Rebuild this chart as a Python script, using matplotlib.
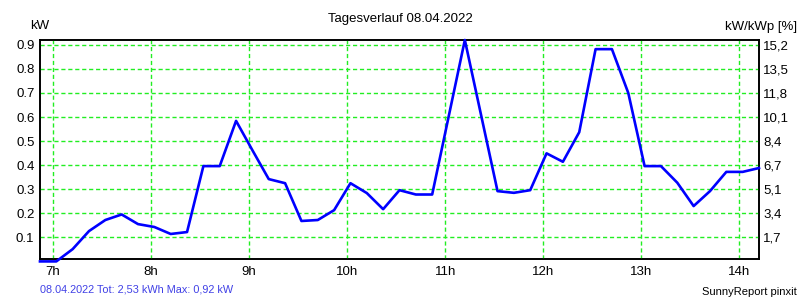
import matplotlib
matplotlib.use("Agg")
import matplotlib.pyplot as plt

plt.rcParams['font.family'] = ['Liberation Sans', 'DejaVu Sans']

# ------------------------------------------------------------
# Data (10 minute samples)
# ------------------------------------------------------------
times = ["6:52", "7:02", "7:12", "7:22", "7:32", "7:42", "7:52",
         "8:02", "8:12", "8:22", "8:32", "8:42", "8:52",
         "9:02", "9:12", "9:22", "9:32", "9:42", "9:52",
         "10:02", "10:12", "10:22", "10:32", "10:42", "10:52",
         "11:12", "11:32", "11:42", "11:52",
         "12:02", "12:12", "12:22", "12:32", "12:42", "12:52",
         "13:02", "13:12", "13:22", "13:32", "13:42", "13:52",
         "14:02", "14:12"]
power_kw = [0.0, 0.0, 0.051, 0.126, 0.172, 0.195, 0.155,
            0.143, 0.114, 0.122, 0.396, 0.396, 0.584,
            0.462, 0.342, 0.325, 0.168, 0.172, 0.213,
            0.325, 0.284, 0.217, 0.296, 0.278, 0.278,
            0.92, 0.292, 0.285, 0.296,
            0.449, 0.414, 0.537, 0.882, 0.882, 0.70,
            0.396, 0.396, 0.327, 0.230, 0.292, 0.372,
            0.372, 0.388]

hour_ticks = [7, 8, 9, 10, 11, 12, 13, 14]
hour_labels = ["7h", "8h", "9h", "10h", "11h", "12h", "13h", "14h"]
kw_ticks = [0.1, 0.2, 0.3, 0.4, 0.5, 0.6, 0.7, 0.8, 0.9]
kw_labels = ["0.1", "0.2", "0.3", "0.4", "0.5", "0.6", "0.7", "0.8", "0.9"]
pct_labels = ["1,7", "3,4", "5,1", "6,7", "8,4", "10,1", "11,8", "13,5", "15,2"]

hours = [int(t.split(":")[0]) + int(t.split(":")[1]) / 60 for t in times]

# ------------------------------------------------------------
# Figure
# ------------------------------------------------------------
fig = plt.figure(figsize=(8, 3), dpi=100)
ax = fig.add_axes([40/800, 41/300, 719/800, 219/300])

grid_col = "#22ee22"
for h in hour_ticks:
    ax.axvline(h, color=grid_col, lw=1, ls=(0, (3, 2)), zorder=1)
for v in kw_ticks:
    ax.axhline(v, color=grid_col, lw=1, ls=(0, (3, 2)), zorder=1)

ax.plot(hours, power_kw, color="#0000ff", lw=1.9, zorder=5, clip_on=False)

ax.set_xlim(6.867, 14.2)
ax.set_ylim(0.01, 0.92)

ax.set_xticks(hour_ticks)
ax.set_xticklabels(hour_labels, fontsize=9.5)
ax.set_yticks(kw_ticks)
ax.set_yticklabels(kw_labels, fontsize=9.5)
ax.tick_params(axis="both", length=0)
ax.tick_params(axis="x", pad=5)
ax.tick_params(axis="y", pad=4)

ax2 = ax.twinx()
ax2.set_ylim(ax.get_ylim())
ax2.set_yticks(kw_ticks)
ax2.set_yticklabels(pct_labels, fontsize=9.5)
ax2.tick_params(axis="y", length=0, pad=3)
ax.set_zorder(ax2.get_zorder() + 1)
ax.patch.set_visible(False)

for a in (ax, ax2):
    for s in a.spines.values():
        s.set_color("black")
        s.set_linewidth(1.2)

fig.text(0.5, 1 - 19/300, "Tagesverlauf 08.04.2022", ha="center", va="center", fontsize=9.5)
fig.text(30/800, 1 - 26/300, "kW", ha="left", va="center", fontsize=9.5)
fig.text(797/800, 1 - 27/300, "kW/kWp [%]", ha="right", va="center", fontsize=9.5)
fig.text(40/800, 1 - 289/300, "08.04.2022 Tot: 2,53 kWh Max: 0,92 kW",
         ha="left", va="center", fontsize=7.8, color="#4040e6")
fig.text(797/800, 1 - 292/300, "SunnyReport pinxit", ha="right", va="center", fontsize=8)

fig.savefig("out.png", dpi=100)
